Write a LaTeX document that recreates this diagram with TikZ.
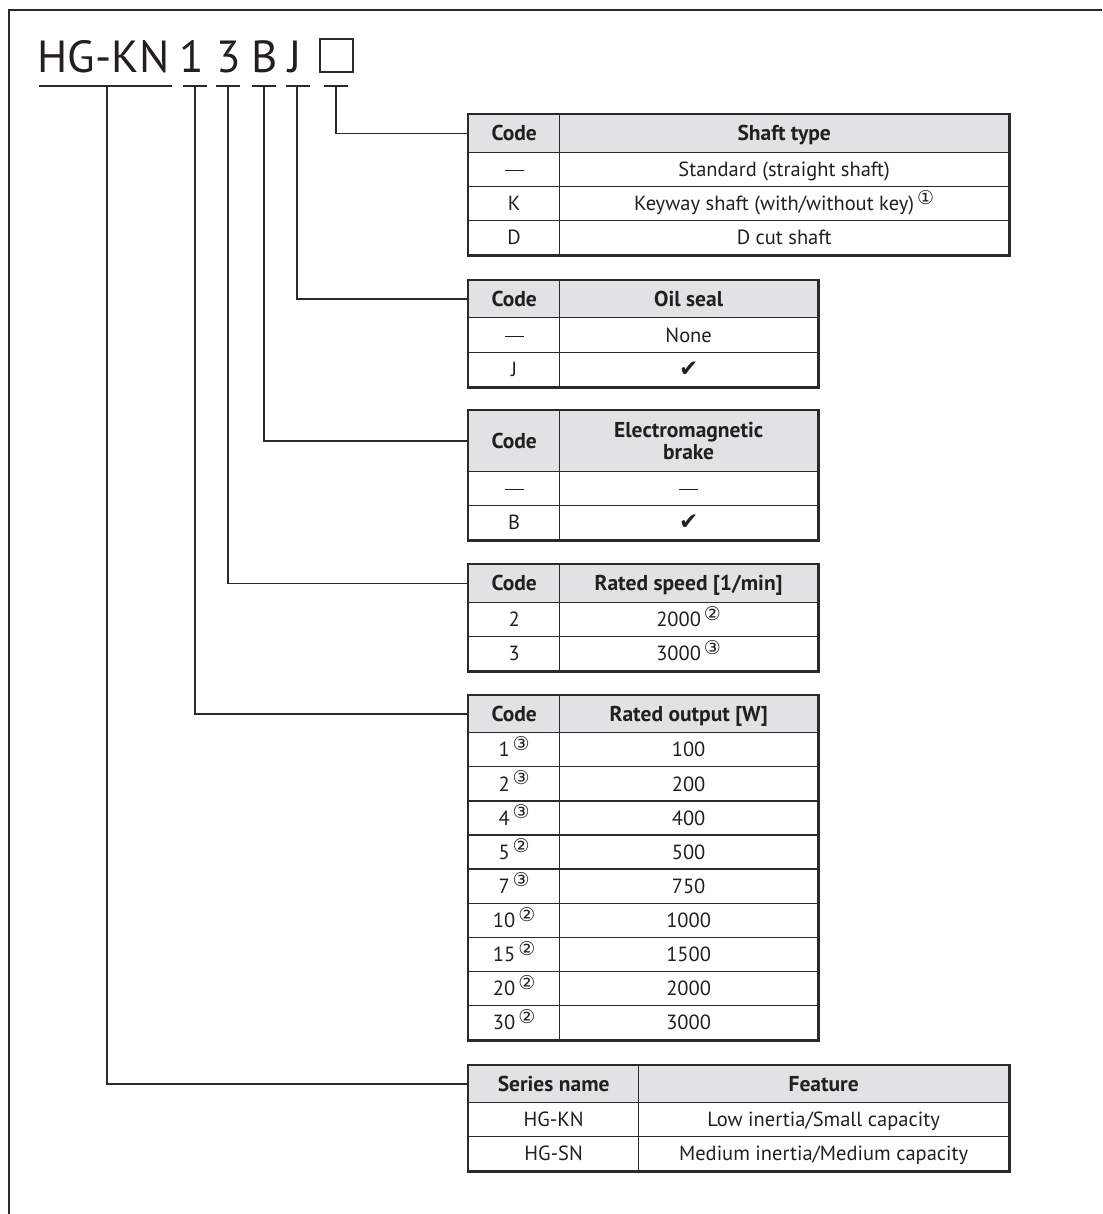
\documentclass[tikz,border=0pt]{standalone}
\usepackage{fontspec}
\setmainfont{PT Sans}
\newfontfamily\dejavu{DejaVu Sans}
\definecolor{inkc}{HTML}{231F20}
\definecolor{linec}{HTML}{2A2A2A}
\definecolor{headc}{HTML}{E1E2E3}
\newcommand\circnum[1]{\hspace{3pt}\raisebox{6.5pt}{\dejavu\fontsize{19}{19}\selectfont #1}}
\newcommand\chk{{\dejavu\fontsize{23}{23}\selectfont ✔}}
\newcommand\emd{\rule[5.5pt]{19pt}{1.3pt}}
\newcommand\tabfont{\fontsize{20.5}{22}\selectfont}
\newcommand\headfont{\fontsize{21.5}{22}\selectfont\bfseries}
\tikzset{
  cell/.style={draw=linec, line width=1.3pt, inner sep=0pt, anchor=north west,
    font=\tabfont, text=inkc, text height=14.5pt, text depth=0pt},
  hcell/.style={cell, fill=headc, font=\headfont},
  outer/.style={draw=linec, line width=2.6pt},
  conn/.style={draw=linec, line width=1.4pt},
  big/.style={font=\fontsize{45}{45}\selectfont, text=inkc, inner sep=0pt, anchor=base},
  frame/.style={draw=linec, line width=2.2pt}
}
\newcommand\mycell[7]{\node[#6, minimum width=#4pt, minimum height=#5pt] (#1) at (#2,#3) {#7};}
\begin{document}
\begin{tikzpicture}[x=1pt,y=-1pt]
\useasboundingbox (0,0) rectangle (1102,1214);
% frame
\draw[frame] (9,1214) -- (9,10) -- (1102,10);
% header
\node[big] (hg) at (103.5,73) {HG-KN};
\node[big] (d1) at (192,73) {1};
\node[big] (d3) at (229,73) {3};
\node[big] (dB) at (264.5,73) {B};
\node[big] (dJ) at (295,73) {J};
\node[draw=linec, line width=2pt, minimum width=33pt, minimum height=33pt, inner sep=0pt, anchor=south west] (dbox) at (318.5,73) {};
% underlines
\coordinate (u0) at (107,86);
\coordinate (u1) at (195,86);
\coordinate (u3) at (228,86);
\coordinate (uB) at (264,86);
\coordinate (uJ) at (297,86);
\coordinate (u5) at (336,86);
\draw[conn] (39,86) -- (172,86);
\draw[conn] (183,86) -- (207,86);
\draw[conn] (216,86) -- (240,86);
\draw[conn] (252,86) -- (276,86);
\draw[conn] (286,86) -- (310,86);
\draw[conn] (324,86) -- (348,86);

% table 1
\mycell{t1a}{468}{114}{91}{38}{hcell}{Code}
\mycell{t1b}{559}{114}{449}{38}{hcell}{Shaft type}
\mycell{t1c}{468}{152}{91}{34}{cell}{\emd}
\mycell{t1d}{559}{152}{449}{34}{cell}{Standard (straight shaft)}
\mycell{t1e}{468}{186}{91}{34}{cell}{K}
\mycell{t1f}{559}{186}{449}{34}{cell}{Keyway shaft (with/without key)\circnum{①}}
\mycell{t1g}{468}{220}{91}{34}{cell}{D}
\mycell{t1h}{559}{220}{449}{34}{cell}{D cut shaft}
\draw[outer] (t1a.north west) rectangle (t1h.south east);

% table 2
\mycell{t2a}{468}{280}{91}{37}{hcell}{Code}
\mycell{t2b}{559}{280}{258}{37}{hcell}{Oil seal}
\mycell{t2c}{468}{317}{91}{35}{cell}{\emd}
\mycell{t2d}{559}{317}{258}{35}{cell}{None}
\mycell{t2e}{468}{352}{91}{34}{cell}{J}
\mycell{t2f}{559}{352}{258}{34}{cell}{\chk}
\draw[outer] (t2a.north west) rectangle (t2f.south east);

% table 3
\mycell{t3a}{468}{410}{91}{61}{hcell}{Code}
\node[hcell, minimum width=258pt, minimum height=61pt, align=center, text height=, text depth=] (t3b) at (559,410) {Electromagnetic\\brake};
\mycell{t3c}{468}{471}{91}{34}{cell}{\emd}
\mycell{t3d}{559}{471}{258}{34}{cell}{\emd}
\mycell{t3e}{468}{505}{91}{34}{cell}{B}
\mycell{t3f}{559}{505}{258}{34}{cell}{\chk}
\draw[outer] (t3a.north west) rectangle (t3f.south east);

% table 4
\mycell{t4a}{468}{564}{91}{38}{hcell}{Code}
\mycell{t4b}{559}{564}{258}{38}{hcell}{Rated speed [1/min]}
\mycell{t4c}{468}{602}{91}{34}{cell}{2}
\mycell{t4d}{559}{602}{258}{34}{cell}{2000\circnum{②}}
\mycell{t4e}{468}{636}{91}{34}{cell}{3}
\mycell{t4f}{559}{636}{258}{34}{cell}{3000\circnum{③}}
\draw[outer] (t4a.north west) rectangle (t4f.south east);

% table 5
\mycell{t5a}{468}{695}{91}{37}{hcell}{Code}
\mycell{t5b}{559}{695}{258}{37}{hcell}{Rated output [W]}
\foreach \c/\n/\v [count=\i from 0] in {1/③/100, 2/③/200, 4/③/400, 5/②/500, 7/③/750, 10/②/1000, 15/②/1500, 20/②/2000, 30/②/3000}{
  \pgfmathsetmacro\yy{732+34.111*\i}
  \mycell{t5c\i}{468}{\yy}{91}{34.111}{cell}{\c\circnum{\n}}
  \mycell{t5d\i}{559}{\yy}{258}{34.111}{cell}{\v}
}
\draw[outer] (t5a.north west) rectangle (t5d8.south east);

% table 6
\mycell{t6a}{468}{1065}{170}{37}{hcell}{Series name}
\mycell{t6b}{638}{1065}{370}{37}{hcell}{Feature}
\mycell{t6c}{468}{1102}{170}{34}{cell}{HG-KN}
\mycell{t6d}{638}{1102}{370}{34}{cell}{Low inertia/Small capacity}
\mycell{t6e}{468}{1136}{170}{34}{cell}{HG-SN}
\mycell{t6f}{638}{1136}{370}{34}{cell}{Medium inertia/Medium capacity}
\draw[outer] (t6a.north west) rectangle (t6f.south east);

% connectors
\draw[conn] (u5) |- (t1a.west);
\draw[conn] (uJ) |- (t2a.west);
\draw[conn] (uB) |- (t3a.west);
\draw[conn] (u3) |- (t4a.west);
\draw[conn] (u1) |- (t5a.west);
\draw[conn] (u0) |- (t6a.west);
\end{tikzpicture}
\end{document}
